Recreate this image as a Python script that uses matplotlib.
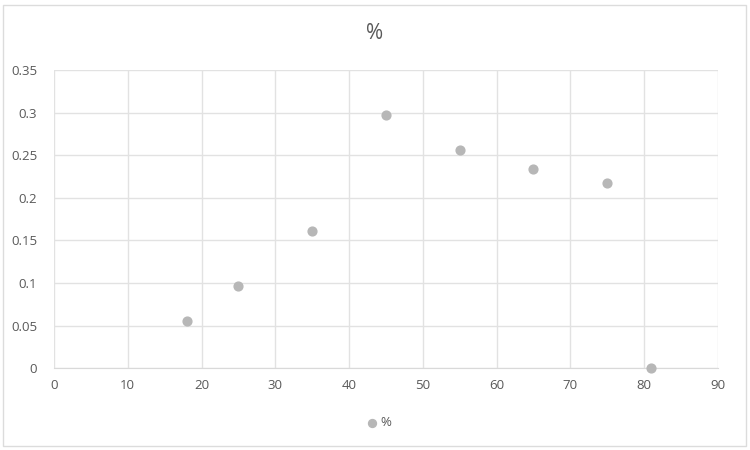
import matplotlib
matplotlib.use("Agg")
import matplotlib.pyplot as plt
from matplotlib.patches import Rectangle

x_vals = [18, 25, 35, 45, 55, 65, 75, 81]
y_vals = [0.055, 0.096, 0.161, 0.297, 0.256, 0.234, 0.218, 0.0]
series_name = "%"
x_ticks = [0, 10, 20, 30, 40, 50, 60, 70, 80, 90]
y_ticks = [0, 0.05, 0.1, 0.15, 0.2, 0.25, 0.3, 0.35]
y_labels = ["0", "0.05", "0.1", "0.15", "0.2", "0.25", "0.3", "0.35"]

plt.rcParams['font.family'] = ['Open Sans', 'DejaVu Sans']
txt = '#595959'
grid = '#e2e2e2'
mcol = '#b7b7b7'

fig = plt.figure(figsize=(7.5, 4.5), dpi=100)
fig.patches.append(Rectangle((0.004, 0.008), 0.99, 0.98, transform=fig.transFigure,
                             fill=False, edgecolor='#dcdcdc', linewidth=1))
ax = fig.add_axes([0.072, 0.182, 0.885, 0.662])
ax.scatter(x_vals, y_vals, s=40, color=mcol, zorder=3, clip_on=False, label=series_name)
ax.set_xlim(0, 90)
ax.set_ylim(0, 0.35)
ax.set_xticks(x_ticks)
ax.set_yticks(y_ticks)
ax.set_yticklabels(y_labels)
ax.grid(True, color=grid, linewidth=1)
ax.set_axisbelow(True)
for s in ['left', 'right', 'top']:
    ax.spines[s].set_visible(False)
ax.spines['bottom'].set_color('#d9d9d9')
ax.tick_params(length=0, labelsize=9.5, colors=txt, pad=8)
ax.tick_params(axis='y', pad=12)
fig.text(0.5, 0.925, series_name, ha='center', va='center', fontsize=15, color=txt)
leg = fig.legend(loc='center', bbox_to_anchor=(0.5, 0.06), frameon=False, fontsize=9.5,
                 handletextpad=-0.3, markerscale=0.9, labelcolor=txt)
fig.savefig("out.png", dpi=100)
